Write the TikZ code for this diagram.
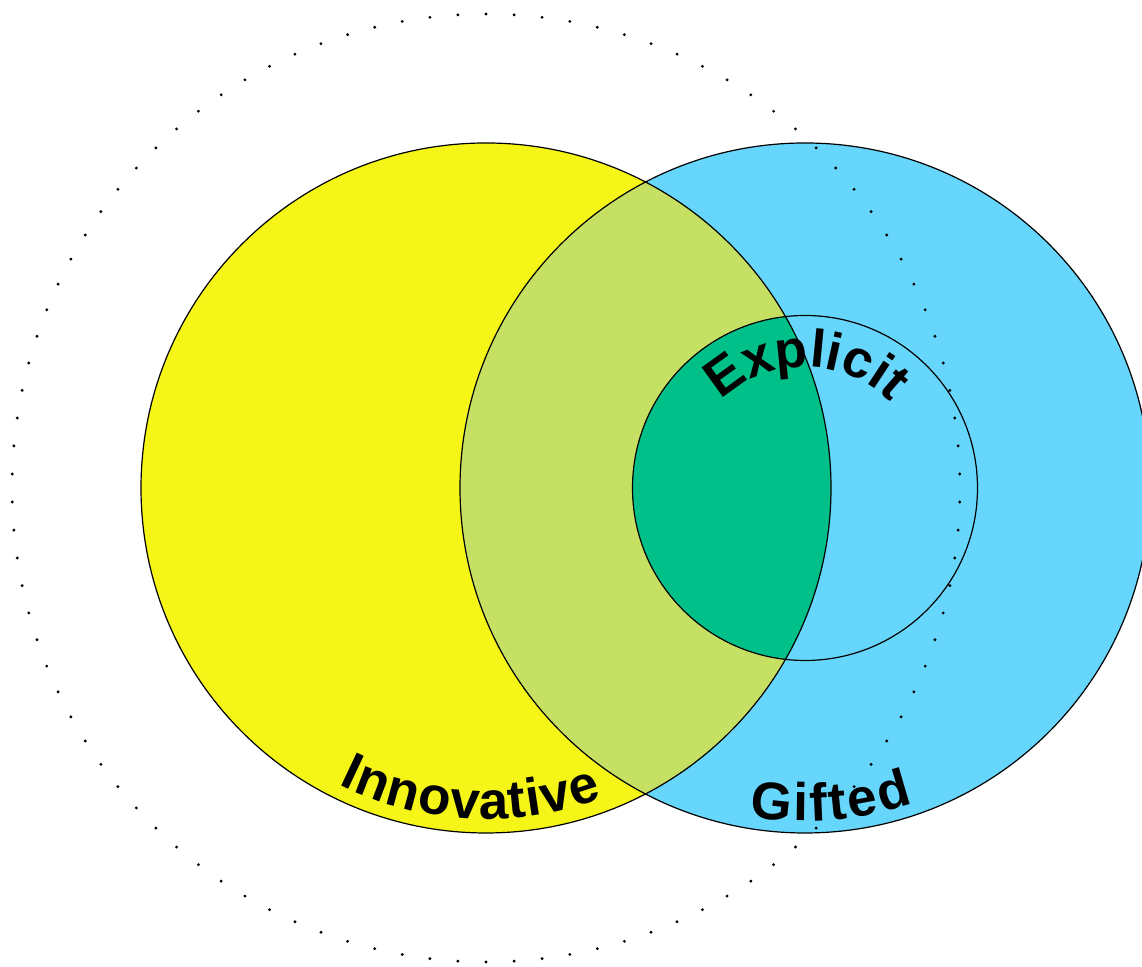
\documentclass[tikz,border=0pt]{standalone}
\usepackage{fontspec}
\setmainfont{Liberation Sans}
\usetikzlibrary{decorations.text}
\definecolor{venyellow}{RGB}{245,245,24}
\definecolor{venblue}{RGB}{102,214,252}
\definecolor{venolive}{RGB}{197,224,99}
\definecolor{vengreen}{RGB}{0,192,138}
\newcommand\venlabelfont{\bfseries\fontsize{26.5}{26.5}\selectfont}
\begin{document}
\begin{tikzpicture}[x=0.5pt,y=0.5pt,
  ring/.style={draw=black,line width=0.6pt},
  curvedlabel/.style={decorate,decoration={text along path,text align={fit to path},text={|\venlabelfont|#1}}}]
\useasboundingbox (0,0) rectangle (1142,967);
\fill[white] (0,0) rectangle (1142,967);
\coordinate (cy) at (486,479);
\coordinate (cb) at (805,479);
\coordinate (ci) at (805,479);
\coordinate (cd) at (486,479);
\begin{scope}
  \clip (0,0) rectangle (1142,967);
  \fill[venyellow] (cy) circle (345);
  \fill[venblue] (cb) circle (345);
  \begin{scope}
    \clip (cy) circle (345);
    \fill[venolive] (cb) circle (345);
    \fill[vengreen] (ci) circle (172.5);
  \end{scope}
  \draw[ring] (cy) circle (345);
  \draw[ring] (cb) circle (345);
  \draw[ring] (ci) circle (172.5);
  \foreach \k in {0,...,105}
    \fill[black] (cd) ++({90-\k*3.39623}:474) circle (1.6);
\end{scope}
\path[curvedlabel=Innovative] (cy) ++(243.5:331) arc[start angle=243.5,end angle=290.5,radius=331];
\path[curvedlabel=Gifted] (cb) ++(260.5:333) arc[start angle=260.5,end angle=289,radius=333];
\path[curvedlabel=Explicit] (ci) ++(134:121) arc[start angle=134,end angle=45,radius=121];
\end{tikzpicture}
\end{document}
